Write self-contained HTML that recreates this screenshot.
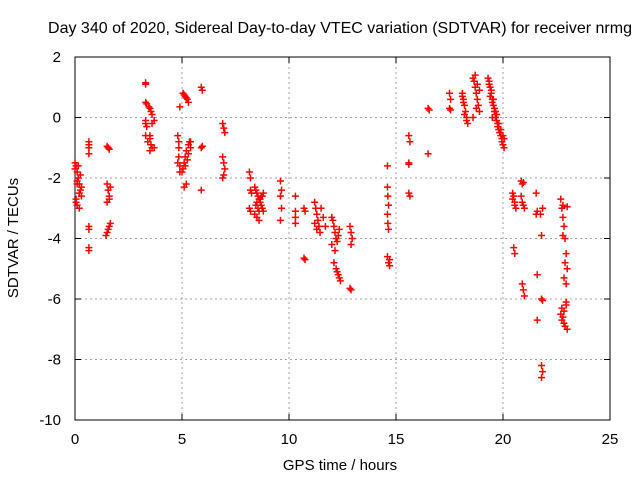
<!DOCTYPE html>
<html><head><meta charset="utf-8"><style>
body{margin:0;background:#fff;}
svg{display:block;font-family:"Liberation Sans",sans-serif;}
</style></head><body>
<svg id="chart" width="640" height="480" viewBox="0 0 640 480">
<rect width="640" height="480" fill="#fff"/>
<text x="340" y="33" font-size="16" text-anchor="middle" fill="#000">Day 340 of 2020, Sidereal Day-to-day VTEC variation (SDTVAR) for receiver nrmg</text>
<g id="grid"></g>
<g id="axes"></g>
<g id="marks"></g>
<text x="340" y="470" font-size="15" text-anchor="middle">GPS time / hours</text>
<text transform="translate(18,238) rotate(-90)" font-size="15" text-anchor="middle">SDTVAR / TECUs</text>
</svg>
<script>
const xTicks = [0,5,10,15,20,25];
const yTicks = [2,0,-2,-4,-6,-8,-10];
const times = [
0.0,0.05,0.1,0.15,0.2,0.25,0.3,0.05,0.1,0.2,0.0,0.1,0.15,0.25,0.3,0.05,0.2,0.1,
0.65,0.65,0.65,0.65,0.65,0.65,0.65,0.65,
1.5,1.55,1.6,1.5,1.55,1.6,1.65,1.5,1.6,1.45,1.5,1.55,1.6,1.65,
3.3,3.3,3.3,3.35,3.3,3.3,3.35,3.3,3.4,3.5,3.45,3.55,3.6,3.5,3.55,3.6,3.5,3.6,3.7,3.7,3.5,
4.8,4.85,4.85,4.8,4.9,4.9,4.85,4.9,
5.05,5.1,5.15,5.2,5.25,5.3,5.0,5.05,5.1,5.15,5.2,5.3,5.35,5.4,5.1,5.2,5.15,5.25,5.3,5.4,
5.9,5.95,5.9,5.95,5.9,
6.9,6.95,7.0,6.9,6.95,7.0,6.95,6.9,
8.15,8.2,8.2,8.15,8.2,8.25,8.4,8.45,8.5,8.55,8.6,8.65,8.7,8.75,8.8,8.4,8.5,8.6,8.7,8.8,8.45,8.55,8.65,8.75,8.5,8.6,
9.6,9.65,9.6,9.65,9.6,
10.3,10.3,10.3,10.3,10.7,10.75,10.7,10.75,
11.2,11.25,11.3,11.35,11.4,11.45,11.2,11.3,11.5,11.6,11.7,
12.0,12.05,12.1,12.15,12.2,12.25,12.3,12.35,12.1,12.2,12.25,12.3,12.35,12.4,12.0,12.15,
12.85,12.9,12.95,12.9,12.85,12.9,
14.6,14.6,14.62,14.65,14.6,14.62,14.65,14.6,14.7,14.65,14.7,
15.6,15.65,15.6,15.6,15.65,15.6,
16.5,16.55,16.5,
17.5,17.55,17.5,17.55,
18.1,18.15,18.2,18.25,18.3,18.35,18.1,18.2,18.3,18.15,
18.6,18.65,18.7,18.75,18.8,18.85,18.9,18.7,18.8,18.9,18.6,18.75,
19.3,19.35,19.4,19.45,19.5,19.55,19.6,19.65,19.7,19.75,19.8,19.85,19.9,19.95,20.0,20.05,19.4,19.5,19.6,19.7,19.8,19.9,20.0,19.45,19.55,19.65,19.75,19.85,19.95,20.05,19.35,19.5,
20.45,20.5,20.55,20.6,20.5,20.55,20.45,20.55,
20.85,20.9,20.95,20.85,20.9,20.95,21.0,20.9,20.95,21.0,
21.55,21.6,21.6,21.6,21.55,21.75,21.8,21.8,21.85,21.8,21.85,21.8,21.85,
22.7,22.75,22.8,22.85,22.9,22.95,23.0,22.8,22.9,22.85,22.95,23.0,22.7,22.75,22.8,22.85,22.9,22.95,23.0,22.75,22.85,22.95,22.8
];
const values = [
-1.5,-1.6,-1.8,-2.0,-2.2,-2.4,-2.6,-2.8,-2.9,-3.0,-1.7,-2.1,-1.6,-1.9,-2.3,-2.7,-2.5,-2.2,
-0.8,-0.9,-1.0,-1.2,-3.6,-3.7,-4.3,-4.4,
-0.95,-1.0,-1.05,-2.2,-2.4,-2.6,-2.3,-2.8,-2.7,-3.9,-3.8,-3.7,-3.6,-3.5,
1.1,1.15,0.5,0.45,-0.1,-0.2,-0.3,-0.6,-0.8,0.3,0.35,0.2,0.1,-0.7,-0.9,-1.0,-1.1,-0.2,-0.1,-1.0,-0.6,
-0.6,-0.8,-1.0,-1.5,-1.6,-1.8,-1.3,0.35,
0.8,0.75,0.7,0.65,0.6,0.5,-1.8,-1.7,-1.5,-1.3,-1.1,-0.9,-0.8,-0.8,-2.3,-2.2,-1.6,-1.4,-1.2,-1.0,
1.0,0.9,-1.0,-0.95,-2.4,
-0.2,-0.35,-0.5,-1.3,-1.5,-1.7,-1.9,-2.0,
-1.8,-2.0,-2.4,-3.0,-3.1,-2.5,-2.3,-2.4,-2.5,-2.6,-2.7,-2.8,-2.9,-3.0,-3.1,-3.2,-3.3,-3.4,-2.6,-2.5,-2.9,-3.0,-2.7,-2.6,-2.8,-3.1,
-2.1,-2.4,-2.6,-3.0,-3.4,
-2.6,-3.1,-3.3,-3.5,-3.0,-3.1,-4.65,-4.7,
-2.8,-3.0,-3.2,-3.4,-3.6,-3.8,-3.5,-3.7,-3.0,-3.3,-3.6,
-3.3,-3.4,-3.6,-3.8,-4.0,-4.1,-3.9,-3.7,-4.8,-5.0,-5.1,-5.2,-5.3,-5.4,-4.2,-4.4,
-3.6,-3.8,-4.0,-4.2,-5.65,-5.7,
-1.6,-2.3,-2.6,-2.9,-3.2,-3.5,-3.7,-4.6,-4.7,-4.8,-4.9,
-0.6,-0.8,-1.5,-2.5,-2.6,-1.55,
0.3,0.25,-1.2,
0.8,0.6,0.3,0.25,
0.8,0.6,0.4,0.2,0.0,-0.2,0.7,0.1,-0.1,0.5,
1.3,1.2,1.0,0.8,0.6,0.4,0.2,1.4,1.1,0.9,0.0,0.3,
1.3,1.2,1.0,0.8,0.6,0.4,0.2,0.0,-0.1,-0.2,-0.4,-0.5,-0.6,-0.8,-0.9,-1.0,0.7,0.5,0.3,0.1,-0.2,-0.4,-0.6,0.9,0.6,0.2,-0.3,-0.5,-0.7,-0.7,1.1,0.0,
-2.5,-2.6,-2.8,-3.0,-4.3,-4.5,-2.7,-2.9,
-2.1,-2.2,-2.15,-2.6,-2.8,-2.9,-3.0,-5.5,-5.7,-5.9,
-2.5,-3.1,-5.2,-6.7,-3.2,-3.2,-3.9,-6.0,-6.05,-8.2,-8.4,-8.6,-3.0,
-2.7,-3.0,-3.3,-3.6,-4.0,-4.5,-5.0,-3.9,-4.8,-5.3,-5.5,-2.95,-6.5,-6.3,-6.6,-6.8,-6.9,-6.2,-7.0,-6.7,-6.4,-6.1,-2.9
];
const NS='http://www.w3.org/2000/svg';
const L=75,R=610,T=57,B=420;
function xs(t){return L+(t-0)/25*(R-L);}
function ys(v){return T+(2-v)/12*(B-T);}
const grid=document.getElementById('grid'),axes=document.getElementById('axes'),marks=document.getElementById('marks');
function mk(tag,attrs,parent){const e=document.createElementNS(NS,tag);for(const k in attrs)e.setAttribute(k,attrs[k]);parent.appendChild(e);return e;}
xTicks.forEach(t=>{
  const x=xs(t);
  if(t>0&&t<25){const g=mk('line',{x1:x,x2:x,y1:T,y2:B,stroke:'#a0a0a0','stroke-dasharray':'2,3'},grid);
  
  }
  mk('line',{x1:x,x2:x,y1:B,y2:B-6,stroke:'#000'},axes);
  mk('line',{x1:x,x2:x,y1:T,y2:T+6,stroke:'#000'},axes);
  const tx=mk('text',{x:x,y:B+24,'font-size':15,'text-anchor':'middle'},axes);
  
  
  tx.textContent=t;
});
yTicks.forEach(v=>{
  const y=ys(v);
  if(v<2&&v>-10){const g=mk('line',{x1:L,x2:R,y1:y,y2:y,stroke:'#a0a0a0','stroke-dasharray':'2,3'},grid);
  
  }
  mk('line',{x1:L,x2:L+6,y1:y,y2:y,stroke:'#000'},axes);
  mk('line',{x1:R,x2:R-6,y1:y,y2:y,stroke:'#000'},axes);
  const tx=mk('text',{x:L-14,y:y+5,'font-size':15,'text-anchor':'end'},axes);
  
  
  tx.textContent=v;
});
const fr=mk('rect',{x:L,y:T,width:R-L,height:B-T,fill:'none',stroke:'#000','stroke-width':1},axes);


for(let i=0;i<times.length;i++){
  const x=xs(times[i]),y=ys(values[i]);
  const p=mk('path',{d:`M${x-3.5},${y}H${x+3.5}M${x},${y-3.5}V${y+3.5}`,stroke:'#f00','stroke-width':1.5,fill:'none'},marks);
  
  
}
</script>
</body></html>
